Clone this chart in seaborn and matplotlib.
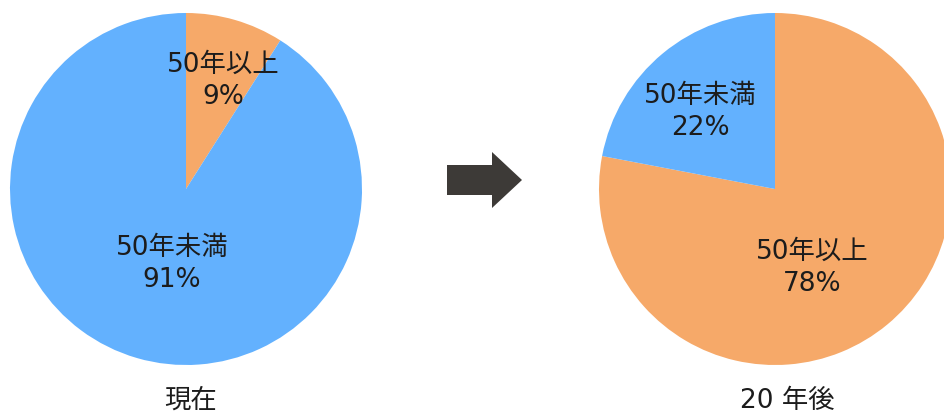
import matplotlib
matplotlib.use("Agg")
import matplotlib.pyplot as plt
from matplotlib.patches import Polygon
import numpy as np
import seaborn as sns

sns.set_theme(style="white")
# Latin digits from DejaVu Sans, Japanese glyphs from Noto Sans CJK JP
plt.rcParams["font.family"] = ["DejaVu Sans", "Noto Sans CJK JP"]

# Share of items by age
categories_now = ["50年以上", "50年未満"]
values_now = [9, 91]
categories_later = ["50年以上", "50年未満"]
values_later = [78, 22]
panel_titles = ["現在", "20 年後"]

colors = {"50年以上": "#F6A969", "50年未満": "#63B1FE"}
text_color = "#1c1c1c"
FS = 19

W, H = 945, 416
fig = plt.figure(figsize=(W / 100, H / 100), dpi=100)
fig.patch.set_facecolor("white")


def px_axes(x0, y0, x1, y1):
    """Axes placed by pixel box (top-left origin)."""
    return fig.add_axes([x0 / W, 1 - y1 / H, (x1 - x0) / W, (y1 - y0) / H])


def draw_pie(ax, cats, vals, label_pos):
    wedges, _ = ax.pie(vals, colors=[colors[c] for c in cats], startangle=90,
                       counterclock=False, radius=1.0,
                       wedgeprops=dict(linewidth=0))
    for w, c, v in zip(wedges, cats, vals):
        r, shift = label_pos[c]
        mid = np.deg2rad((w.theta1 + w.theta2) / 2 + shift)
        ax.text(r * np.cos(mid), r * np.sin(mid), f"{c}\n{v}%",
                ha="center", va="center", fontsize=FS, color=text_color,
                linespacing=1.3)
    ax.set_xlim(-1, 1)
    ax.set_ylim(-1, 1)
    ax.set_aspect("equal")
    ax.axis("off")


# label placement: (radius, angular shift in degrees)
ax_l = px_axes(10, 13, 362, 365)
draw_pie(ax_l, categories_now, values_now,
         {"50年以上": (0.65, -2.7), "50年未満": (0.436, 5.7)})

ax_r = px_axes(599, 13, 951, 365)
draw_pie(ax_r, categories_later, values_later,
         {"50年以上": (0.496, -14.5), "50年未満": (0.611, 4.6)})

# overlay for the arrow and panel captions
ov = fig.add_axes([0, 0, 1, 1])
ov.set_xlim(0, W)
ov.set_ylim(H, 0)
ov.axis("off")
ov.patch.set_alpha(0)
arrow = [(447, 165), (492, 165), (492, 152), (522, 180), (492, 208),
         (492, 195), (447, 195)]
ov.add_patch(Polygon(arrow, closed=True, facecolor="#3d3a37", edgecolor="none"))
ov.text(191, 401, panel_titles[0], ha="center", va="center",
        fontsize=FS, color=text_color)
ov.text(787, 401, panel_titles[1], ha="center", va="center",
        fontsize=FS, color=text_color)

fig.savefig("out.png", dpi=100, facecolor="white")
